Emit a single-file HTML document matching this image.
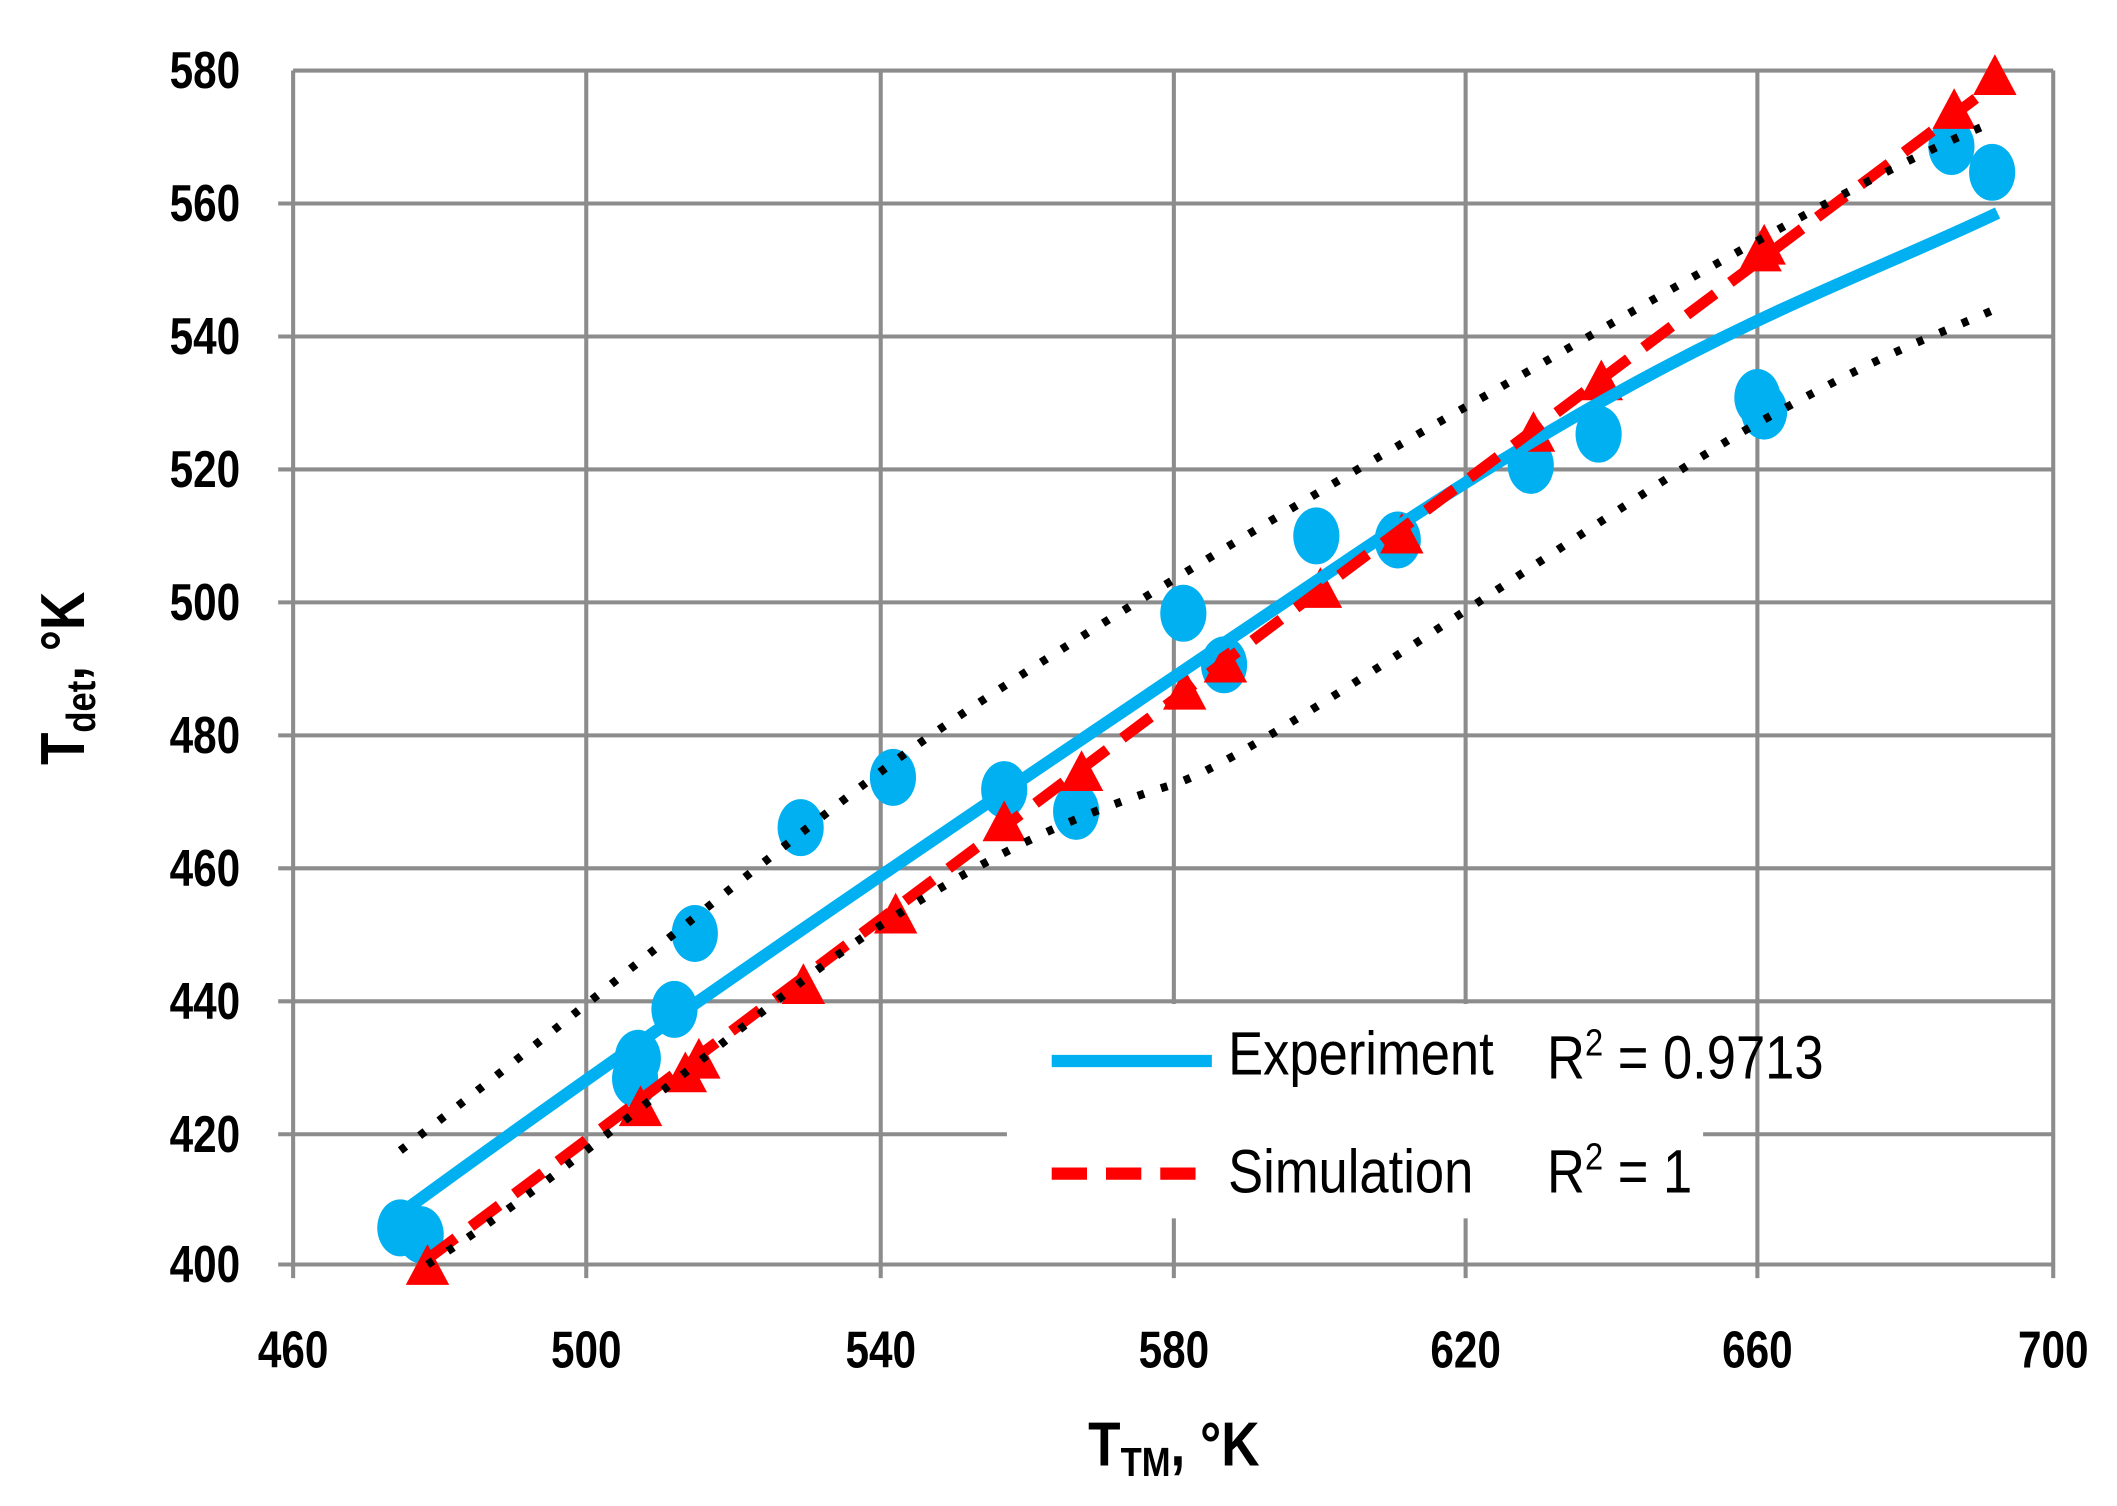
<!DOCTYPE html>
<html><head><meta charset="utf-8"><style>
html,body{margin:0;padding:0;background:#fff}
svg{display:block}
text{font-family:"Liberation Sans",sans-serif;fill:#000}
</style></head><body>
<svg width="2117" height="1506" viewBox="0 0 1560 1110" preserveAspectRatio="none" xmlns="http://www.w3.org/2000/svg">
<g stroke="#8c8c8c" stroke-width="3">
<line x1="216" y1="52" x2="1513" y2="52"/>
<line x1="205" y1="150" x2="1513" y2="150"/>
<line x1="205" y1="248" x2="1513" y2="248"/>
<line x1="205" y1="346" x2="1513" y2="346"/>
<line x1="205" y1="444" x2="1513" y2="444"/>
<line x1="205" y1="542" x2="1513" y2="542"/>
<line x1="205" y1="640" x2="1513" y2="640"/>
<line x1="205" y1="738" x2="1513" y2="738"/>
<line x1="205" y1="836" x2="1513" y2="836"/>
<line x1="205" y1="932" x2="1513" y2="932"/>
<line x1="216" y1="52" x2="216" y2="942"/>
<line x1="432" y1="52" x2="432" y2="942"/>
<line x1="649" y1="52" x2="649" y2="942"/>
<line x1="865" y1="52" x2="865" y2="942"/>
<line x1="1080" y1="52" x2="1080" y2="942"/>
<line x1="1295" y1="52" x2="1295" y2="942"/>
<line x1="1513" y1="52" x2="1513" y2="942"/>
</g>
<rect x="742" y="740" width="398" height="40" fill="#fff"/>
<rect x="742" y="778" width="513" height="120" fill="#fff"/>
<g font-size="38" text-anchor="end" font-weight="bold">
<text transform="translate(177,65) scale(0.82,1)">580</text>
<text transform="translate(177,163) scale(0.82,1)">560</text>
<text transform="translate(177,261) scale(0.82,1)">540</text>
<text transform="translate(177,359) scale(0.82,1)">520</text>
<text transform="translate(177,457) scale(0.82,1)">500</text>
<text transform="translate(177,555) scale(0.82,1)">480</text>
<text transform="translate(177,653) scale(0.82,1)">460</text>
<text transform="translate(177,751) scale(0.82,1)">440</text>
<text transform="translate(177,849) scale(0.82,1)">420</text>
<text transform="translate(177,945) scale(0.82,1)">400</text>
</g>
<g font-size="38" text-anchor="middle" font-weight="bold">
<text transform="translate(216,1008) scale(0.82,1)">460</text>
<text transform="translate(432,1008) scale(0.82,1)">500</text>
<text transform="translate(649,1008) scale(0.82,1)">540</text>
<text transform="translate(865,1008) scale(0.82,1)">580</text>
<text transform="translate(1080,1008) scale(0.82,1)">620</text>
<text transform="translate(1295,1008) scale(0.82,1)">660</text>
<text transform="translate(1513,1008) scale(0.82,1)">700</text>
</g>
<text transform="translate(865,1080) scale(0.85,1)" font-size="46" font-weight="bold" text-anchor="middle">T<tspan font-size="30" dy="8">TM</tspan><tspan dy="-8">, °K</tspan></text>
<text transform="translate(62,500) rotate(-90) scale(0.85,1)" font-size="46" font-weight="bold" text-anchor="middle">T<tspan font-size="30" dy="8">det</tspan><tspan dy="-8">, °K</tspan></text>
<g fill="#00b0f0">
<ellipse cx="295" cy="905" rx="17" ry="21"/><ellipse cx="310" cy="910" rx="17" ry="21"/>
<ellipse cx="470" cy="780" rx="17" ry="21"/><ellipse cx="468" cy="795" rx="17" ry="21"/>
<ellipse cx="497" cy="744" rx="17" ry="21"/><ellipse cx="512" cy="688" rx="17" ry="21"/>
<ellipse cx="590" cy="610" rx="17" ry="21"/><ellipse cx="658" cy="573" rx="17" ry="21"/>
<ellipse cx="740" cy="582" rx="17" ry="21"/><ellipse cx="793" cy="598" rx="17" ry="21"/>
<ellipse cx="872" cy="452" rx="17" ry="21"/><ellipse cx="902" cy="490" rx="17" ry="21"/>
<ellipse cx="970" cy="395" rx="17" ry="21"/><ellipse cx="1030" cy="398" rx="17" ry="21"/>
<ellipse cx="1128" cy="343" rx="17" ry="21"/><ellipse cx="1178" cy="320" rx="17" ry="21"/>
<ellipse cx="1295" cy="293" rx="17" ry="21"/><ellipse cx="1300" cy="303" rx="17" ry="21"/>
<ellipse cx="1438" cy="108" rx="17" ry="21"/><ellipse cx="1468" cy="127" rx="17" ry="21"/>
</g>
<g fill="#ff0000">
<path d="M315 917l-16 30h32z"/><path d="M472 800l-16 30h32z"/><path d="M505 775l-16 30h32z"/>
<path d="M515 765l-16 30h32z"/><path d="M592 710l-16 30h32z"/><path d="M660 658l-16 30h32z"/>
<path d="M740 590l-16 30h32z"/><path d="M797 553l-16 30h32z"/><path d="M873 493l-16 30h32z"/>
<path d="M903 473l-16 30h32z"/><path d="M973 418l-16 30h32z"/><path d="M1033 378l-16 30h32z"/>
<path d="M1130 303l-16 30h32z"/><path d="M1180 265l-16 30h32z"/><path d="M1297 170l-16 30h32z"/>
<path d="M1300 165l-16 30h32z"/><path d="M1440 65l-16 30h32z"/><path d="M1470 40l-16 30h32z"/>
</g>
<path d="M297 893 C 520 730, 760 570, 1000 408 S 1350 215, 1472 157" fill="none" stroke="#00b0f0" stroke-width="9"/>
<line x1="315" y1="928" x2="1470" y2="62" stroke="#ff0000" stroke-width="8" stroke-dasharray="26 14"/>
<path d="M295 848 C 420 752, 560 635, 658 562 S 1000 345, 1080 300 S 1370 130, 1462 93" fill="none" stroke="#000" stroke-width="6" stroke-dasharray="5 13"/>
<path d="M315 932 C 430 858, 560 740, 649 682 S 800 598, 865 578 S 1200 365, 1295 312 S 1420 250, 1470 228" fill="none" stroke="#000" stroke-width="6" stroke-dasharray="5 13"/>
<line x1="775" y1="782" x2="893" y2="782" stroke="#00b0f0" stroke-width="9"/>
<line x1="775" y1="865" x2="893" y2="865" stroke="#ff0000" stroke-width="9" stroke-dasharray="26 14"/>
<g font-size="45">
<text transform="translate(905,792) scale(0.86,1)">Experiment</text>
<text transform="translate(1140,795) scale(0.86,1)">R<tspan font-size="28" dy="-17">2</tspan><tspan dy="17"> = 0.9713</tspan></text>
<text transform="translate(905,879) scale(0.86,1)">Simulation</text>
<text transform="translate(1140,879) scale(0.86,1)">R<tspan font-size="28" dy="-17">2</tspan><tspan dy="17"> = 1</tspan></text>
</g>
</svg>
</body></html>
